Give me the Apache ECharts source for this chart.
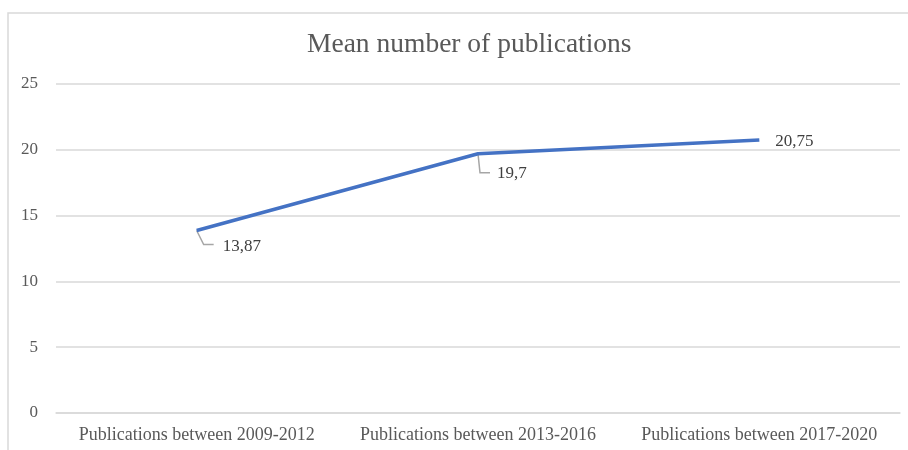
<!DOCTYPE html>
<html>
<head>
<meta charset="utf-8">
<script src="https://cdn.jsdelivr.net/npm/echarts@6/dist/echarts.min.js"></script>
<style>
html,body{margin:0;padding:0;background:#fff;}
#c{width:908px;height:450px;}
</style>
</head>
<body>
<div id="c"></div>
<script>
var titleText = 'Mean number of publications';
var categories = ['Publications between 2009-2012', 'Publications between 2013-2016', 'Publications between 2017-2020'];
var meanValues = [13.87, 19.7, 20.75];
var valueLabels = ['13,87', '19,7', '20,75'];
var yTicks = [0, 5, 10, 15, 20, 25];

var FONT = '"Liberation Serif", "DejaVu Serif", serif';
var chart = echarts.init(document.getElementById('c'), null, {renderer: 'canvas'});

// label placement styles (offsets relative to the data point, in px)
var labelCfg = [
  {distance: 26, dy: 16, leader: [[7, 14], [17, 14]]},
  {distance: 19, dy: 20, leader: [[2, 19], [12, 19]]},
  {distance: 16, dy: 2, leader: null}
];

var seriesData = meanValues.map(function (v, i) {
  return {
    value: v,
    label: {
      show: true,
      position: 'right',
      distance: labelCfg[i].distance,
      formatter: valueLabels[i]
    }
  };
});

var option = {
  animation: false,
  backgroundColor: '#ffffff',
  title: {
    text: titleText,
    left: 307,
    top: 31,
    padding: 0,
    textStyle: {fontFamily: FONT, fontSize: 27.5, fontWeight: 'normal', color: '#595959'}
  },
  grid: {left: 56, right: 8, top: 84, bottom: 37, containLabel: false},
  xAxis: {
    type: 'category',
    data: categories,
    boundaryGap: true,
    axisLine: {show: true, lineStyle: {color: '#d9d9d9', width: 1.5}},
    axisTick: {show: false},
    axisLabel: {fontFamily: FONT, fontSize: 18, color: '#595959', margin: 13, interval: 0}
  },
  yAxis: {
    type: 'value',
    min: yTicks[0],
    max: yTicks[yTicks.length - 1],
    interval: yTicks[1] - yTicks[0],
    axisLine: {show: false},
    axisTick: {show: false},
    splitLine: {lineStyle: {color: '#d9d9d9', width: 1.5}},
    axisLabel: {fontFamily: FONT, fontSize: 17, color: '#595959', margin: 18}
  },
  series: [{
    type: 'line',
    data: seriesData,
    symbol: 'circle',
    symbolSize: 0,
    showSymbol: true,
    lineStyle: {color: '#4472C4', width: 3.5},
    itemStyle: {color: '#4472C4'},
    label: {fontFamily: FONT, fontSize: 17, color: '#404040'},
    labelLayout: function (p) {
      return {dy: labelCfg[p.dataIndex].dy};
    }
  }]
};
chart.setOption(option);

// frame + leader lines, anchored at the data points via the chart's own scales
var graphics = [{
  type: 'polyline',
  shape: {points: [[8, 452], [8, 13], [910, 13]]},
  style: {stroke: '#d9d9d9', lineWidth: 1.5, fill: null},
  silent: true,
  z: 0
}];
meanValues.forEach(function (v, i) {
  var c = labelCfg[i];
  if (!c.leader) return;
  var p = chart.convertToPixel({seriesIndex: 0}, [i, v]);
  var pts = [[p[0], p[1]]].concat(c.leader.map(function (d) { return [p[0] + d[0], p[1] + d[1]]; }));
  graphics.push({
    type: 'polyline',
    shape: {points: pts},
    style: {stroke: '#a6a6a6', lineWidth: 1.5, fill: null},
    silent: true,
    z: 1
  });
});
chart.setOption({graphic: graphics});
</script>
</body>
</html>
